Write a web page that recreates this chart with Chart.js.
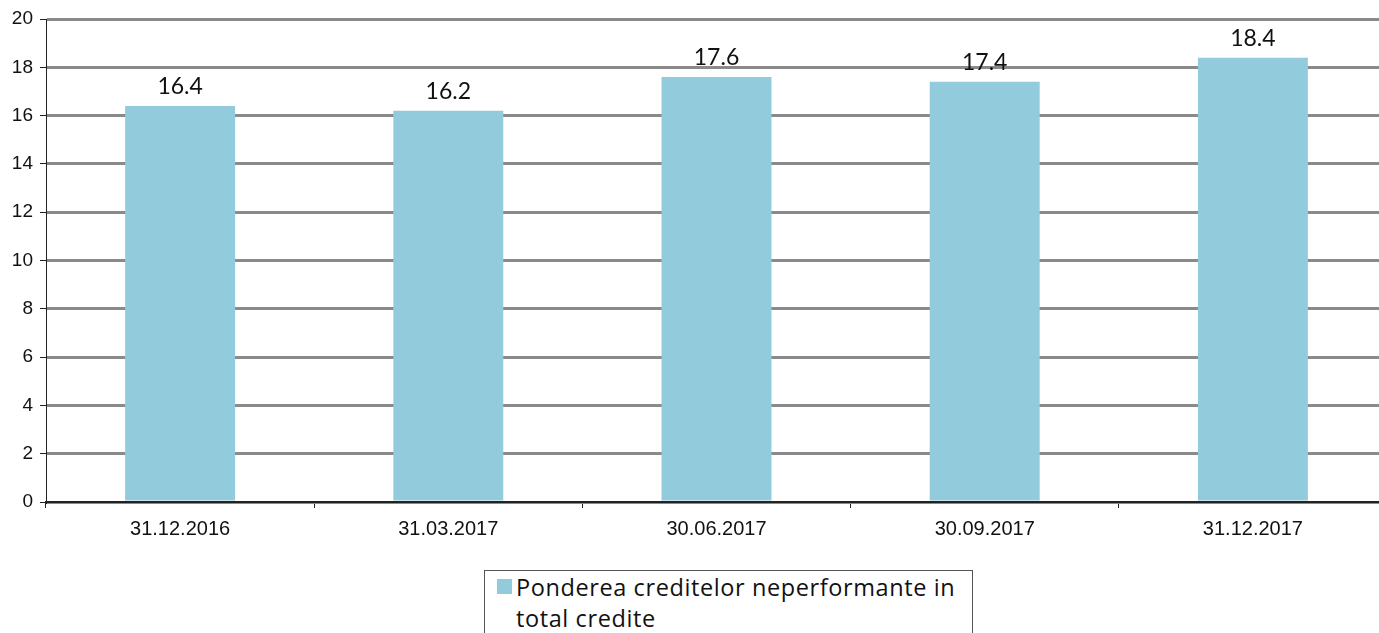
<!DOCTYPE html>
<html>
<head>
<meta charset="utf-8">
<script src="https://cdn.jsdelivr.net/npm/chart.js@4"></script>
<style>
  body { margin: 0; background: #fff; width: 1379px; height: 633px; overflow: hidden; position: relative; }
  #wrap { position: absolute; left: 0; top: 0; width: 1387px; height: 565px; }
  #legend {
    position: absolute; left: 484px; top: 570px; width: 489px; height: 80px;
    border: 1px solid #555; box-sizing: border-box;
    font-family: "Open Sans", Lato, sans-serif; font-size: 23.5px; line-height: 31px; color: #111;
    letter-spacing: 0.6px; white-space: nowrap;
    padding: 1px 0 0 31px;
  }
  #legend .box { position: absolute; left: 12px; top: 8px; width: 15px; height: 15px; background: #92cbdc; }
</style>
</head>
<body>
<div id="wrap"><canvas id="chart"></canvas></div>
<div id="legend"><span class="box"></span>Ponderea creditelor neperformante in<br>total credite</div>
<script>
// date
const categorii = ["31.12.2016", "31.03.2017", "30.06.2017", "30.09.2017", "31.12.2017"];
const pondere = [16.4, 16.2, 17.6, 17.4, 18.4];
const etichetaSerie = "Ponderea creditelor neperformante in total credite";

const culoareBara = "#92cbdc";

// etichete deasupra barelor
const valoriPeBare = {
  id: "valoriPeBare",
  afterDatasetsDraw(chart) {
    const ctx = chart.ctx;
    const meta = chart.getDatasetMeta(0);
    ctx.save();
    ctx.font = "23px Lato, 'Open Sans', sans-serif";
    ctx.fillStyle = "#111";
    ctx.textAlign = "center";
    ctx.textBaseline = "alphabetic";
    meta.data.forEach((bar, i) => {
      ctx.fillText(pondere[i].toFixed(1), bar.x, bar.y - 12);
    });
    ctx.restore();
  }
};

const ctx = document.getElementById("chart").getContext("2d");
new Chart(ctx, {
  type: "bar",
  data: {
    labels: categorii,
    datasets: [{
      label: etichetaSerie,
      data: pondere,
      backgroundColor: culoareBara,
      barPercentage: 1,
      categoryPercentage: 0.41,
    }]
  },
  options: {
    responsive: true,
    maintainAspectRatio: false,
    animation: false,
    layout: { padding: { top: 19, right: 0, bottom: 0, left: 0 } },
    plugins: {
      legend: { display: false },
      tooltip: { enabled: false },
    },
    scales: {
      x: {
        grid: { drawOnChartArea: false, drawTicks: true, tickLength: 6, tickColor: "#222", offset: true },
        border: { color: "#222", width: 2 },
        ticks: { color: "#111", font: { family: "'Liberation Sans', Arial", size: 20 }, padding: 9 },
        afterFit(scale) { scale.height = 63; },
      },
      y: {
        min: 0,
        max: 20,
        ticks: { stepSize: 2, color: "#111", font: { family: "'Liberation Sans', Arial", size: 19 }, padding: 7 },
        grid: { color: "#8a8a8a", lineWidth: 3, tickLength: 6, tickColor: "#222", tickWidth: 1 },
        border: { color: "#222", width: 1 },
        afterFit(scale) { scale.width = 46; },
      }
    }
  },
  plugins: [valoriPeBare]
});
</script>
</body>
</html>
